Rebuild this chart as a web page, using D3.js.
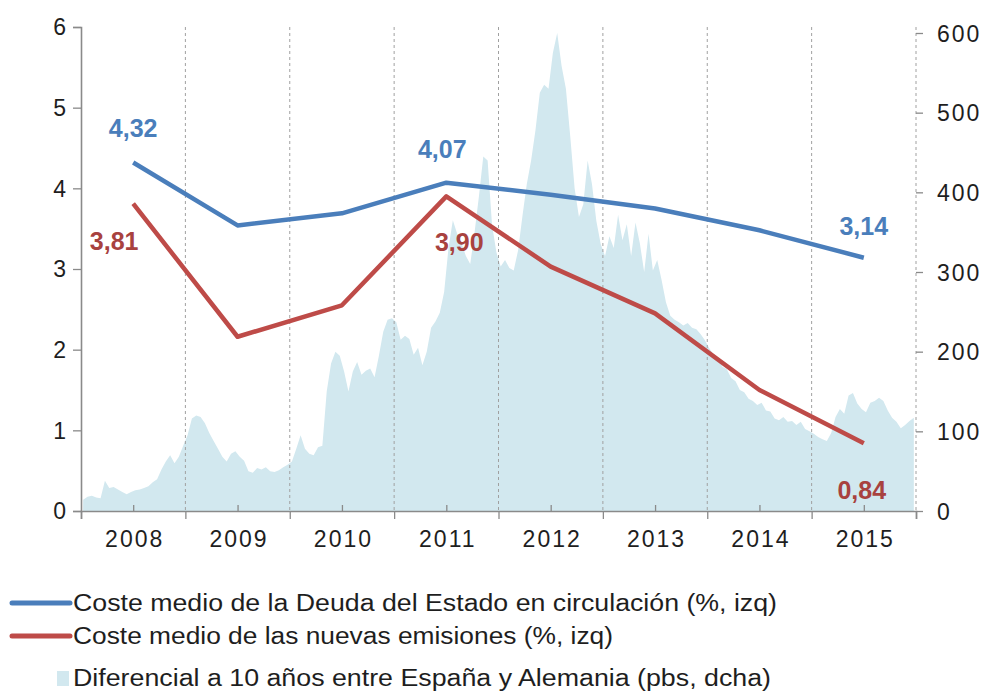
<!DOCTYPE html>
<html>
<head>
<meta charset="utf-8">
<script src="https://cdnjs.cloudflare.com/ajax/libs/d3/7.8.5/d3.min.js"></script>
<style>
	body { margin: 0; background: #fff; }
	text { font-family: Arial, "Liberation Sans", sans-serif; }
</style>
</head>
<body>
<div id="graph"></div>
<script>
var width = 988;
var height = 693;

// años (categorias del eje x)
var years = [2008, 2009, 2010, 2011, 2012, 2013, 2014, 2015];

// coste medio (%), eje izquierdo
var costeCirculacion = [4.32, 3.54, 3.69, 4.07, 3.92, 3.75, 3.48, 3.14];
var costeEmisiones = [3.81, 2.16, 2.55, 3.90, 3.03, 2.45, 1.50, 0.84];

// etiquetas de datos que se muestran
var labelsCirculacion = { 2008: "4,32", 2011: "4,07", 2015: "3,14" };
var labelsEmisiones = { 2008: "3,81", 2011: "3,90", 2015: "0,84" };

// diferencial Espana-Alemania (pbs), 24 observaciones por año
var spread2008 = [14, 18, 19, 17, 16, 38, 29, 30, 27, 24, 21, 24, 26, 27, 29, 31, 36, 40, 52, 62, 70, 60, 68, 82];
var spread2009 = [95, 116, 120, 118, 110, 98, 88, 78, 68, 62, 72, 75, 68, 63, 50, 48, 54, 52, 55, 50, 49, 51, 55, 58];
var spread2010 = [62, 78, 95, 78, 72, 70, 80, 82, 150, 185, 200, 195, 175, 150, 175, 187, 171, 176, 179, 168, 195, 225, 240, 242];
var spread2011 = [237, 215, 220, 216, 196, 205, 183, 200, 230, 238, 249, 275, 330, 365, 348, 336, 320, 310, 350, 395, 445, 440, 360, 325];
var spread2012 = [307, 315, 305, 302, 327, 370, 410, 440, 478, 525, 535, 530, 575, 600, 559, 530, 470, 405, 369, 385, 440, 410, 364, 335];
var spread2013 = [320, 345, 330, 372, 340, 360, 320, 362, 336, 300, 348, 302, 315, 290, 262, 245, 240, 237, 233, 236, 230, 228, 222, 214];
var spread2014 = [204, 196, 192, 181, 178, 167, 163, 152, 149, 141, 138, 133, 136, 126, 125, 116, 114, 118, 112, 113, 108, 112, 103, 100];
var spread2015 = [97, 93, 90, 88, 98, 118, 128, 122, 145, 148, 135, 128, 124, 136, 138, 142, 138, 126, 117, 112, 104, 108, 113, 117];

var leftTicks = [0, 1, 2, 3, 4, 5, 6];
var rightTicks = [0, 100, 200, 300, 400, 500, 600];

var legendItems = [
	"Coste medio de la Deuda del Estado en circulación (%, izq)",
	"Coste medio de las nuevas emisiones (%, izq)",
	"Diferencial a 10 años entre España y Alemania (pbs, dcha)"
];

var blue = "#4a7ebb";
var red = "#be4b48";
var redLabel = "#a8423f";
var areaColor = "#d2e8ef";
var axisColor = "#8a8a8a";
var textColor = "#1e1e1e";

var spreadByYear = [spread2008, spread2009, spread2010, spread2011, spread2012, spread2013, spread2014, spread2015];
var spread = [];
spreadByYear.forEach(function (arr, k) {
	arr.forEach(function (v, i) {
		spread.push({ t: years[k] + (i + 0.5) / arr.length, v: v });
	});
});
spread.unshift({ t: 2008.02, v: 0 });

var xScale = d3.scaleLinear().domain([2008, 2016]).range([81, 916]);
var yLeft = d3.scaleLinear().domain([0, 6]).range([511, 27]);
var yRight = d3.scaleLinear().domain([0, 600]).range([511, 33]);

var chart = d3.select("#graph")
	.append("svg")
	.attr("width", width)
	.attr("height", height);

// area del diferencial
chart.append("path")
	.datum(spread)
	.attr("fill", areaColor)
	.attr("d", d3.area()
		.x(function (d) { return xScale(d.t); })
		.y0(yRight(0))
		.y1(function (d) { return yRight(d.v); }));

// lineas verticales discontinuas entre años
var bounds = d3.range(2009, 2017);
chart.selectAll(".grid")
	.data(bounds)
	.enter()
	.append("line")
	.attr("class", "grid")
	.attr("x1", function (d) { return xScale(d); })
	.attr("x2", function (d) { return xScale(d); })
	.attr("y1", yLeft(6))
	.attr("y2", yLeft(0))
	.attr("stroke", "#a0a0a0")
	.attr("stroke-width", 1)
	.attr("stroke-dasharray", "3,3");

// eje izquierdo
var leftAxis = chart.append("g")
	.attr("transform", "translate(81,0)")
	.call(d3.axisLeft(yLeft).tickValues(leftTicks).tickSize(8).tickPadding(8).tickFormat(d3.format("d")));

// eje derecho
var rightAxis = chart.append("g")
	.attr("transform", "translate(916,0)")
	.call(d3.axisRight(yRight).tickValues(rightTicks).tickSize(7).tickPadding(14).tickFormat(d3.format("d")));
rightAxis.select(".domain").remove();

// eje x: marcas en los limites de cada año
var xAxisBounds = chart.append("g")
	.attr("transform", "translate(0,511)")
	.call(d3.axisBottom(xScale).tickValues(d3.range(2008, 2017)).tickSize(8).tickFormat(""));

// eje x: etiquetas centradas y marcas interiores
var xAxisCenters = chart.append("g")
	.attr("transform", "translate(0,511)")
	.call(d3.axisBottom(xScale).tickValues(years.map(function (y) { return y + 0.5; }))
		.tickSize(-6).tickPadding(30).tickFormat(function (d) { return String(Math.floor(d)); }));
xAxisCenters.select(".domain").remove();

[leftAxis, rightAxis, xAxisBounds, xAxisCenters].forEach(function (g) {
	g.selectAll("path, line").attr("stroke", axisColor).attr("stroke-width", 1.3);
	g.selectAll("text")
		.attr("fill", textColor)
		.style("font-size", "23px")
		.style("letter-spacing", "2px");
});
xAxisBounds.select(".domain").attr("stroke-width", 1.6);
leftAxis.select(".domain").attr("stroke-width", 1.6);
leftAxis.selectAll("text").attr("dy", "0.34em").attr("x", -13);
rightAxis.selectAll("text").attr("dy", "0.36em");
xAxisCenters.selectAll("text").attr("dy", "0.71em").attr("y", 20).attr("x", 1);

// lineas de coste medio
var line = d3.line()
	.x(function (d, i) { return xScale(years[i] + 0.5); })
	.y(function (d) { return yLeft(d); });

chart.append("path")
	.datum(costeCirculacion)
	.attr("fill", "none")
	.attr("stroke", blue)
	.attr("stroke-width", 4.5)
	.attr("stroke-linejoin", "round")
	.attr("d", line);

chart.append("path")
	.datum(costeEmisiones)
	.attr("fill", "none")
	.attr("stroke", red)
	.attr("stroke-width", 4.5)
	.attr("stroke-linejoin", "round")
	.attr("d", line);

// etiquetas de datos
var labelOffsets = {
	c2008: [0, -26], c2011: [-4, -25], c2015: [0, -23],
	e2008: [-19, 46], e2011: [13, 55], e2015: [-2, 56]
};

function addLabels(values, labels, prefix, color) {
	years.forEach(function (y, i) {
		if (!labels[y]) return;
		var off = labelOffsets[prefix + y];
		chart.append("text")
			.attr("x", xScale(y + 0.5) + off[0])
			.attr("y", yLeft(values[i]) + off[1])
			.attr("text-anchor", "middle")
			.attr("fill", color)
			.style("font-size", "25px")
			.style("font-weight", "bold")
			.text(labels[y]);
	});
}
addLabels(costeCirculacion, labelsCirculacion, "c", blue);
addLabels(costeEmisiones, labelsEmisiones, "e", redLabel);

// leyenda
var legendY = [603, 636, 678];
var legendWidths = [704, 540, 698];
var legend = chart.append("g");

legend.append("line")
	.attr("x1", 12).attr("x2", 70)
	.attr("y1", legendY[0]).attr("y2", legendY[0])
	.attr("stroke", blue).attr("stroke-width", 5).attr("stroke-linecap", "round");
legend.append("line")
	.attr("x1", 12).attr("x2", 70)
	.attr("y1", legendY[1]).attr("y2", legendY[1])
	.attr("stroke", red).attr("stroke-width", 5).attr("stroke-linecap", "round");
legend.append("rect")
	.attr("x", 57).attr("y", legendY[2] - 7)
	.attr("width", 12).attr("height", 15)
	.attr("fill", areaColor);

legend.selectAll("text")
	.data(legendItems)
	.enter()
	.append("text")
	.attr("x", 73)
	.attr("y", function (d, i) { return legendY[i]; })
	.attr("dy", "0.36em")
	.attr("textLength", function (d, i) { return legendWidths[i]; })
	.attr("lengthAdjust", "spacingAndGlyphs")
	.attr("fill", textColor)
	.style("font-size", "23px")
	.text(function (d) { return d; });
</script>
</body>
</html>
